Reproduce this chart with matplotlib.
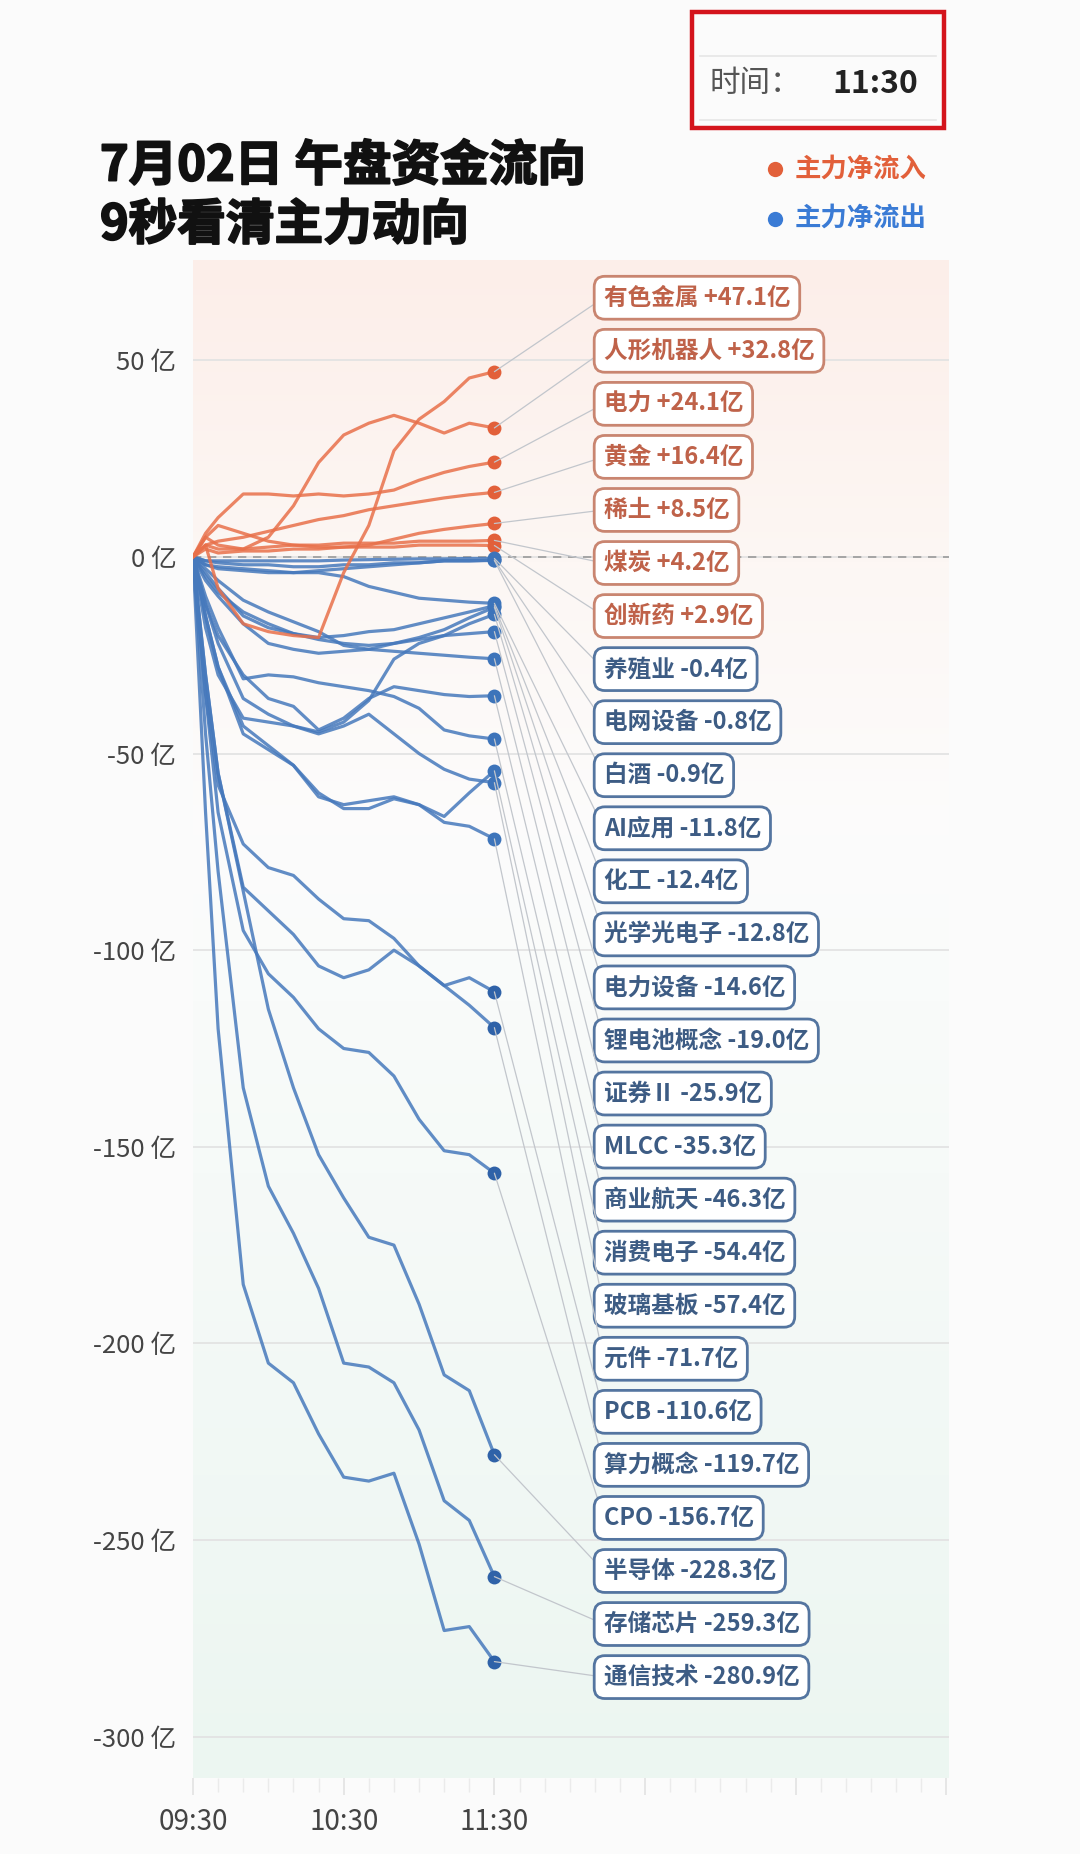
import numpy as np
import matplotlib
matplotlib.use("Agg")
import matplotlib.pyplot as plt
import matplotlib.patheffects as pe
from matplotlib.colors import LinearSegmentedColormap
from matplotlib.patches import Rectangle
from matplotlib.lines import Line2D

plt.rcParams['font.family'] = ['Noto Sans CJK SC', 'DejaVu Sans']

# minutes after 09:30
minutes = [0, 5, 10, 20, 30, 40, 50, 60, 70, 80, 90, 100, 110, 120]

# net main-force flow, 亿
nonferrous = [0, 3, -8, -17, -19, -20, -20.5, -4, 8, 27, 35, 39.5, 45.5, 47.1]
humanoid = [0, 5, 3, 2, 5, 13, 24, 31, 34, 36, 34, 31.5, 34, 32.8]
power = [0, 6, 10, 16, 16, 15.5, 16, 15.5, 16, 17, 19.5, 21.5, 23, 24.1]
gold = [0, 3, 4, 5, 6.5, 8, 9.5, 10.5, 12, 13, 14, 15, 15.8, 16.4]
rare_earth = [0, 5, 8, 6, 4, 3, 2.5, 2.5, 3, 4.5, 6, 7, 7.8, 8.5]
coal = [0, 3, 2, 2, 2.5, 3, 3, 3.5, 3.5, 3.5, 4, 4, 4, 4.2]
innov_drug = [0, 2, 1, 1.5, 1.5, 2, 2, 2.5, 2.5, 2.5, 3, 3, 3, 2.9]
breeding = [0, -1, -1, -1, -1, -1, -1, -0.8, -0.7, -0.6, -0.5, -0.5, -0.4, -0.4]
grid_equip = [0, -2, -3, -3.5, -4, -4, -3.5, -3, -2.5, -2, -1.5, -1, -1, -0.8]
liquor = [0, -1, -1.5, -2, -2, -2.5, -2.5, -2, -2, -1.5, -1.5, -1, -1, -0.9]
ai_app = [0, -2, -2.5, -3, -3.5, -4, -4, -5, -7.5, -9, -10.5, -11, -11.5, -11.8]
chemical = [0, -4, -8, -15, -18, -19.5, -20.5, -20, -19, -18.5, -17, -15.5, -14, -12.4]
optoelec = [0, -6, -10, -17, -22, -23.5, -24.5, -24, -23.5, -22, -20.5, -18.5, -15.5, -12.8]
power_equip = [0, -18, -30, -41, -42, -43, -44.5, -42, -36.5, -26, -22, -20, -17, -14.6]
lithium = [0, -5, -9, -14, -17, -19.5, -21, -22, -22.5, -22, -21, -20, -19.5, -19.0]
securities = [0, -3, -6, -11, -14, -16.5, -19, -22.5, -23.5, -24, -24.5, -25, -25.5, -25.9]
mlcc = [0, -12, -20, -30, -36, -38, -44, -41, -36, -33, -34, -35, -35.5, -35.3]
space = [0, -10, -18, -31, -30, -30.5, -32, -33, -34, -35.5, -38.5, -44, -45.5, -46.3]
consumer_elec = [0, -15, -28, -43, -48, -53, -61, -63, -62, -61, -63, -66, -60, -54.4]
glass_sub = [0, -12, -22, -36, -40, -43, -45, -43, -40, -45, -50, -54, -56.5, -57.4]
components = [0, -15, -28, -45, -49, -53, -60, -64, -64, -61.5, -63, -67.5, -68.5, -71.7]
pcb = [0, -35, -58, -73, -79, -81, -87, -92, -92.5, -97, -104, -109, -107, -110.6]
compute = [0, -30, -55, -84, -90, -96, -104, -107, -105, -100, -104, -109, -114, -119.7]
cpo = [0, -35, -65, -95, -106, -112, -120, -125, -126, -132, -143, -151, -152, -156.7]
semis = [0, -30, -55, -85, -115, -135, -152, -163, -173, -175, -190, -208, -212, -228.3]
storage = [0, -45, -80, -135, -160, -172, -186, -205, -206, -210, -222, -240, -245, -259.3]
telecom = [0, -65, -120, -185, -205, -210, -223, -234, -235, -233, -251, -273, -272, -280.9]

names = ["有色金属", "人形机器人", "电力", "黄金", "稀土", "煤炭", "创新药",
         "养殖业", "电网设备", "白酒", "AI应用", "化工", "光学光电子", "电力设备",
         "锂电池概念", "证券Ⅱ", "MLCC", "商业航天", "消费电子", "玻璃基板", "元件",
         "PCB", "算力概念", "CPO", "半导体", "存储芯片", "通信技术"]
paths = [nonferrous, humanoid, power, gold, rare_earth, coal, innov_drug,
         breeding, grid_equip, liquor, ai_app, chemical, optoelec, power_equip,
         lithium, securities, mlcc, space, consumer_elec, glass_sub, components,
         pcb, compute, cpo, semis, storage, telecom]

yticks = [50, 0, -50, -100, -150, -200, -250, -300]
xtick_labels = ["09:30", "10:30", "11:30", "", "", ""]

ORANGE = "#E8704A"
BLUE = "#4679BC"

fig = plt.figure(figsize=(10.8, 18.54), dpi=100, facecolor="#FBFBFB")
ax = fig.add_axes([193/1080, 76/1854, 756/1080, 1518/1854])

# background gradient
cmap = LinearSegmentedColormap.from_list(
    "bg", [(0, "#ECF6F1"), (0.4, "#F6FAF8"), (0.62, "#FCFCFC"),
           (0.8, "#FDF7F4"), (1, "#FCEEE9")])
grad = np.linspace(0, 1, 256).reshape(-1, 1)
ax.imshow(grad, extent=[0, 1, 0, 1], transform=ax.transAxes, cmap=cmap,
          aspect="auto", origin="lower", zorder=-10)

for i, (name, p) in enumerate(zip(names, paths)):
    up = p[-1] > 0
    col = ORANGE if up else BLUE
    ax.plot(minutes, p, color=col, lw=2.3, alpha=0.85,
            zorder=3 if up else 2, solid_joinstyle="round")
    dot = "#E2603A" if up else ("#2F62A8" if p[-1] < -100 else "#3D74BA")
    ax.plot([minutes[-1]], [p[-1]], "o", color=dot, ms=10, mec="none", zorder=5)

ax.axhline(0, color="#9A9A9A", lw=1.2, ls=(0, (5, 4)), zorder=1)
for y in yticks:
    ax.axhline(y, color="#E3E3E3", lw=1.3, zorder=0)

# labels on the right
label_top = 65.9
label_step = 13.49
for i, (name, p) in enumerate(zip(names, paths)):
    up = p[-1] > 0
    tcol = "#BF6249" if up else "#3D5C84"
    ecol = "#C98570" if up else "#5475A0"
    ly = label_top - i * label_step
    ax.annotate(f"{name} {p[-1]:+.1f}亿", xy=(minutes[-1], p[-1]),
                xytext=(163.5, ly), textcoords="data", va="center", ha="left",
                fontsize=17, fontweight="bold", color=tcol, zorder=6,
                bbox=dict(boxstyle="round,pad=0.4,rounding_size=0.45",
                          fc="white", ec=ecol, lw=2),
                arrowprops=dict(arrowstyle="-", color="#C2C6CC", lw=0.9,
                                shrinkA=0, shrinkB=0, relpos=(0, 0.5)))

ax.set_xlim(0, 301)
ax.set_ylim(-310.5, 75.5)
ax.set_xticks(np.arange(0, 301, 60))
ax.set_xticklabels(xtick_labels)
ax.set_xticks(np.arange(0, 301, 10), minor=True)
ax.set_yticks(yticks)
ax.set_yticklabels([f"{y} 亿" for y in yticks])
ax.tick_params(axis="x", which="major", length=12, color="#E2E2E2", width=1.2,
               labelsize=20, labelcolor="#444444", pad=9)
ax.tick_params(axis="x", which="minor", length=10, color="#EBEBEB", width=1.0)
ax.tick_params(axis="y", length=0, labelsize=18.5, labelcolor="#444444", pad=12)
for s in ax.spines.values():
    s.set_visible(False)

# title
heavy = [pe.withStroke(linewidth=1.4, foreground="#111111")]
fig.text(100/1080, 1 - 166/1854, "7月02日 午盘资金流向", fontsize=35,
         fontweight="black", color="#111111", va="center", ha="left",
         path_effects=heavy)
fig.text(100/1080, 1 - 225/1854, "9秒看清主力动向", fontsize=35,
         fontweight="black", color="#111111", va="center", ha="left",
         path_effects=heavy)

# legend
fig.add_artist(Line2D([775/1080], [1 - 169/1854], marker="o", ms=11,
                      color="#E2603A", mec="none", transform=fig.transFigure))
fig.add_artist(Line2D([775/1080], [1 - 219/1854], marker="o", ms=11,
                      color="#3A7BD5", mec="none", transform=fig.transFigure))
fig.text(795/1080, 1 - 169/1854, "主力净流入", fontsize=19, fontweight="bold",
         color="#E2603A", va="center", ha="left")
fig.text(795/1080, 1 - 219/1854, "主力净流出", fontsize=19, fontweight="bold",
         color="#3A7BD5", va="center", ha="left")

# time box
fig.add_artist(Rectangle((692/1080, 1 - 128/1854), 252/1080, 116/1854,
                         transform=fig.transFigure, fill=True, fc="#FBFBFB",
                         ec="#D4141C", lw=3.2))
for yy in (56, 120):
    fig.add_artist(Line2D([700/1080, 936/1080], [1 - yy/1854, 1 - yy/1854],
                          color="#E6E6E6", lw=1.2, transform=fig.transFigure))
fig.text(710/1080, 1 - 84/1854, "时间：", fontsize=22, color="#555555",
         va="center", ha="left")
fig.text(832/1080, 1 - 84/1854, "11:30", fontsize=23, fontweight="bold",
         color="#222222", va="center", ha="left")

fig.savefig("out.png", dpi=100, facecolor=fig.get_facecolor())
